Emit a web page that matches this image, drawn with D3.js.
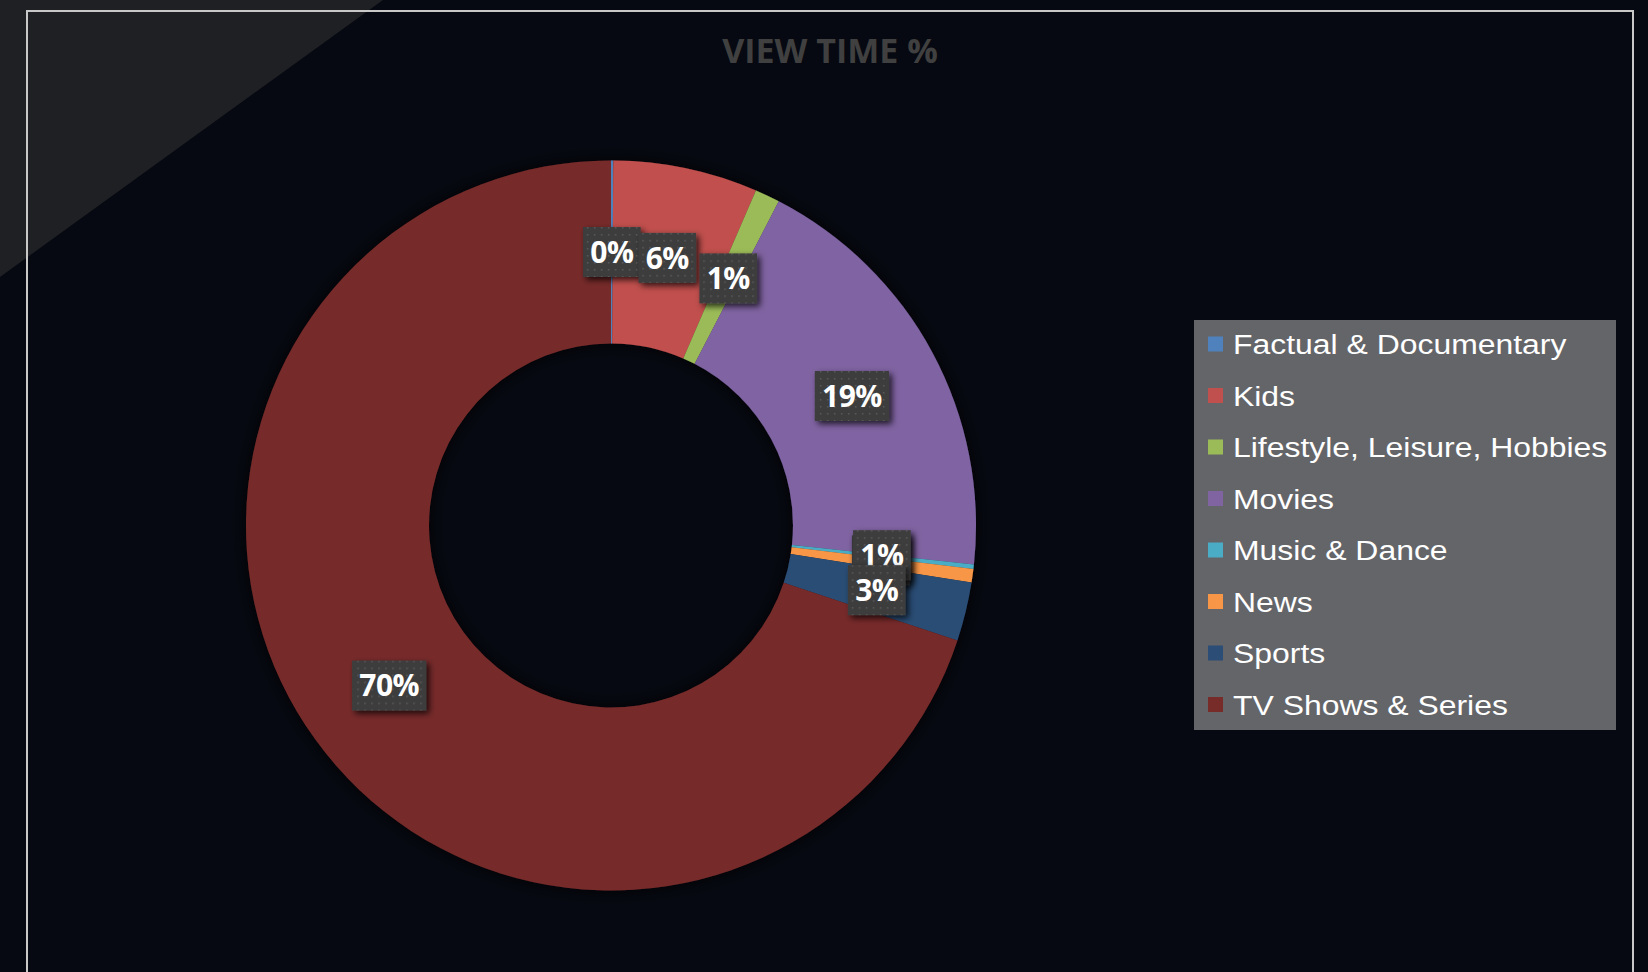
<!DOCTYPE html>
<html>
<head>
<meta charset="utf-8">
<script src="https://cdn.jsdelivr.net/npm/d3@7/dist/d3.min.js"></script>
<style>
  html, body { margin: 0; padding: 0; background: #060911; overflow: hidden; }
  svg { display: block; }
</style>
</head>
<body>
<svg id="chart" width="1648" height="972"></svg>
<script>
// Share of viewing time per content genre (percent)
const categories = [
  "Factual & Documentary",
  "Kids",
  "Lifestyle, Leisure, Hobbies",
  "Movies",
  "Music & Dance",
  "News",
  "Sports",
  "TV Shows & Series"
];
const viewShare = [0.1, 6.4, 1.1, 19.1, 0.2, 0.6, 2.6, 69.9];
const colors = ["#4f81bd", "#c0504d", "#9bbb59", "#8064a2", "#4bacc6", "#f79646", "#2c4d75", "#772c2a"];
const title = "VIEW TIME %";

const W = 1648, H = 972;
const cx = 611, cy = 525.5, outerR = 365, innerR = 182;

const svg = d3.select("#chart");
const defs = svg.append("defs");

// dotted fill for the data label boxes
const pat = defs.append("pattern")
  .attr("id", "dots").attr("patternUnits", "userSpaceOnUse")
  .attr("width", 7).attr("height", 7);
pat.append("rect").attr("width", 7).attr("height", 7).attr("fill", "#3d3d3d");
pat.append("rect").attr("x", 3).attr("y", 3).attr("width", 1.5).attr("height", 1.5).attr("fill", "#5a5a5a");

const shadow = defs.append("filter").attr("id", "boxShadow")
  .attr("x", "-30%").attr("y", "-30%").attr("width", "170%").attr("height", "170%");
shadow.append("feDropShadow").attr("dx", 3).attr("dy", 3).attr("stdDeviation", 3)
  .attr("flood-color", "#000").attr("flood-opacity", 0.75);

const ringShadow = defs.append("filter").attr("id", "ringShadow")
  .attr("x", "-20%").attr("y", "-20%").attr("width", "140%").attr("height", "140%");
ringShadow.append("feDropShadow").attr("dx", 0).attr("dy", 0).attr("stdDeviation", 8)
  .attr("flood-color", "#000").attr("flood-opacity", 0.9);

// background with lighter corner wedge
svg.append("rect").attr("width", W).attr("height", H).attr("fill", "#060911");
svg.append("path").attr("d", "M0,0 L383,0 L0,277 Z").attr("fill", "#1f2024");

// chart frame
svg.append("rect")
  .attr("x", 27).attr("y", 11).attr("width", 1606).attr("height", 1000)
  .attr("fill", "none").attr("stroke", "#c8c8c8").attr("stroke-width", 2);

// title
svg.append("text")
  .attr("x", 830).attr("y", 63)
  .attr("text-anchor", "middle")
  .attr("font-family", "'Open Sans', sans-serif")
  .attr("font-weight", 700)
  .attr("font-size", 34)
  .attr("fill", "#404040")
  .text(title);

// donut
const data = categories.map((c, i) => ({ name: c, value: viewShare[i], color: colors[i] }));
const pie = d3.pie().sort(null).value(d => d.value);
const arcs = pie(data);
const arc = d3.arc().innerRadius(innerR).outerRadius(outerR);
const labelArc = d3.arc().innerRadius((innerR + outerR) / 2).outerRadius((innerR + outerR) / 2);

const g = svg.append("g").attr("transform", `translate(${cx},${cy})`);
g.append("g").attr("filter", "url(#ringShadow)")
  .selectAll("path").data(arcs).join("path")
  .attr("d", arc)
  .attr("fill", d => d.data.color);

// data labels (small neighbouring slices are nudged apart)
const nudge = {
  "Music & Dance": [-2, 4],
  "News": [0, -8],
  "Sports": [0, 0]
};
const labels = g.append("g").selectAll("g").data(arcs).join("g")
  .attr("transform", d => {
    const [x, y] = labelArc.centroid(d);
    const n = nudge[d.data.name] || [0, 0];
    return `translate(${x + n[0]},${y + n[1]})`;
  });

labels.each(function(d) {
  const sel = d3.select(this);
  const txt = Math.round(d.data.value) + "%";
  const t = sel.append("text")
    .attr("text-anchor", "middle")
    .attr("dy", "0.36em")
    .attr("font-family", "'Open Sans', sans-serif")
    .attr("font-weight", 700)
    .attr("font-size", 30)
    .attr("letter-spacing", -0.5)
    .attr("fill", "#ffffff")
    .text(txt);
  const bb = t.node().getBBox();
  const w = bb.width + 14, h = 50;
  sel.insert("rect", "text")
    .attr("x", -w / 2).attr("y", -h / 2)
    .attr("width", w).attr("height", h)
    .attr("fill", "url(#dots)")
    .attr("filter", "url(#boxShadow)");
});

// legend
const legX = 1194, legY = 320, legW = 422, legH = 410;
const legend = svg.append("g");
legend.append("rect")
  .attr("x", legX).attr("y", legY).attr("width", legW).attr("height", legH)
  .attr("fill", "#646569");
const rowY = d3.scalePoint().domain(categories).range([344, 704.5]);
const rows = legend.selectAll("g.row").data(data).join("g")
  .attr("class", "row")
  .attr("transform", d => `translate(0,${rowY(d.name)})`);
rows.append("rect")
  .attr("x", 1208).attr("y", -7.5).attr("width", 15).attr("height", 15)
  .attr("fill", d => d.color);
// legend entries use a slightly wide face
rows.append("text")
  .attr("transform", "translate(1233,10) scale(1.14,1)")
  .attr("font-family", "'Liberation Sans', Arial, sans-serif")
  .attr("font-size", 28)
  .attr("fill", "#ffffff")
  .text(d => d.name);
</script>
</body>
</html>
